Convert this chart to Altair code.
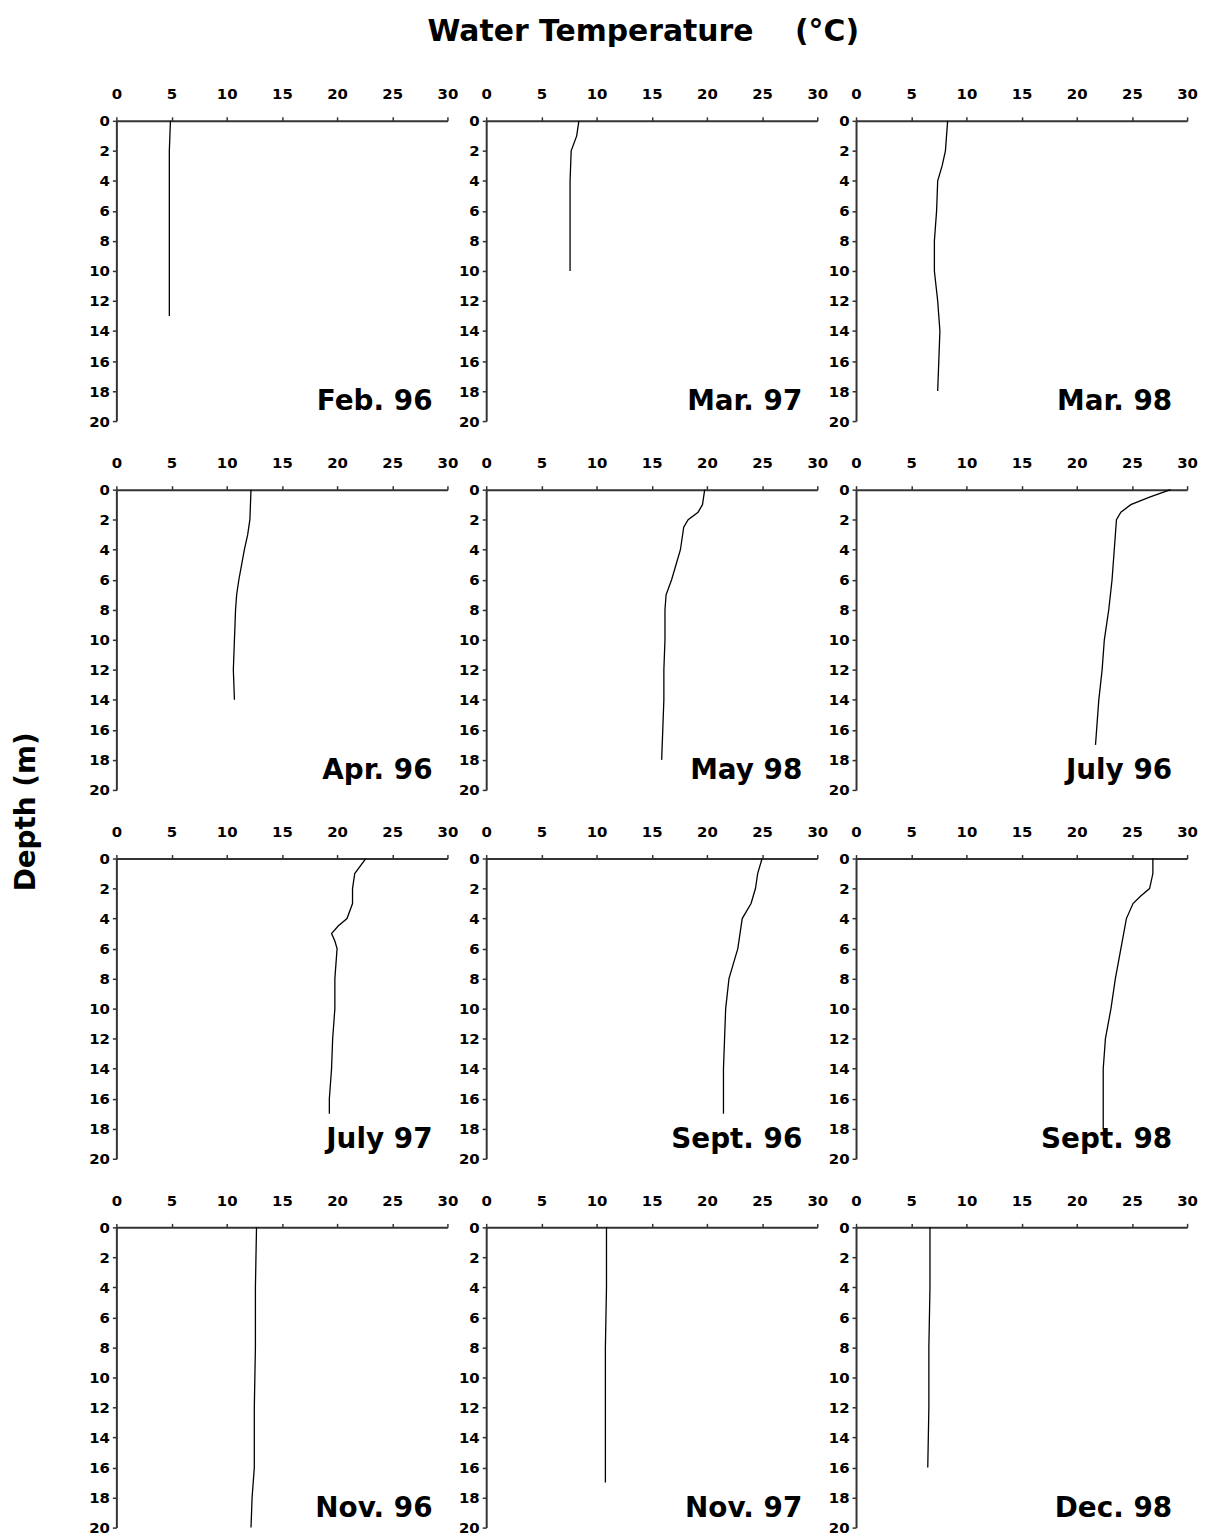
import altair as alt
import pandas as pd

# panel names, in reading order (3 per row)
labels = ["Feb. 96", "Mar. 97", "Mar. 98",
          "Apr. 96", "May 98", "July 96",
          "July 97", "Sept. 96", "Sept. 98",
          "Nov. 96", "Nov. 97", "Dec. 98"]

# depth (m) / temperature (C)
feb96_depth = [0, 2, 4, 6, 8, 10, 12, 13]
feb96_temp = [4.9, 4.8, 4.8, 4.8, 4.8, 4.8, 4.8, 4.8]

mar97_depth = [0, 1, 2, 4, 6, 8, 10]
mar97_temp = [8.4, 8.2, 7.7, 7.6, 7.6, 7.6, 7.6]

mar98_depth = [0, 2, 3, 4, 6, 8, 10, 12, 14, 16, 18]
mar98_temp = [8.3, 8.1, 7.8, 7.4, 7.3, 7.1, 7.1, 7.4, 7.6, 7.5, 7.4]

apr96_depth = [0, 1, 2, 3, 4, 5, 6, 7, 8, 10, 12, 14]
apr96_temp = [12.2, 12.15, 12.1, 11.9, 11.6, 11.35, 11.1, 10.9, 10.8, 10.7, 10.6, 10.7]

may98_depth = [0, 1, 1.5, 2, 2.5, 4, 5, 6, 7, 8, 10, 12, 14, 16, 18]
may98_temp = [19.8, 19.6, 19.2, 18.3, 17.9, 17.6, 17.2, 16.8, 16.3, 16.2, 16.2, 16.1, 16.1, 16.0, 15.9]

jul96_depth = [0, 0.5, 1, 1.5, 2, 3, 4, 6, 8, 10, 12, 14, 16, 17]
jul96_temp = [28.5, 26.6, 24.9, 24.0, 23.6, 23.5, 23.4, 23.2, 22.9, 22.5, 22.3, 22.0, 21.8, 21.7]

jul97_depth = [0, 1, 2, 3, 4, 4.5, 5, 5.5, 6, 8, 10, 12, 14, 16, 17]
jul97_temp = [22.6, 21.6, 21.4, 21.4, 20.9, 20.1, 19.5, 19.8, 20.0, 19.8, 19.8, 19.6, 19.5, 19.3, 19.3]

sep96_depth = [0, 1, 2, 3, 4, 6, 7, 8, 10, 12, 14, 16, 17]
sep96_temp = [25.0, 24.6, 24.4, 24.0, 23.2, 22.8, 22.4, 22.0, 21.7, 21.6, 21.5, 21.5, 21.5]

sep98_depth = [0, 1, 2, 2.5, 3, 4, 6, 8, 10, 12, 14, 16, 18]
sep98_temp = [26.9, 26.9, 26.6, 25.8, 25.1, 24.5, 24.0, 23.5, 23.1, 22.6, 22.4, 22.4, 22.4]

nov96_depth = [0, 4, 8, 12, 16, 18, 20]
nov96_temp = [12.7, 12.6, 12.6, 12.5, 12.5, 12.3, 12.2]

nov97_depth = [0, 4, 8, 12, 17]
nov97_temp = [10.9, 10.9, 10.8, 10.8, 10.8]

dec98_depth = [0, 4, 8, 12, 16]
dec98_temp = [6.7, 6.7, 6.6, 6.6, 6.5]

profiles = [
    (feb96_depth, feb96_temp), (mar97_depth, mar97_temp), (mar98_depth, mar98_temp),
    (apr96_depth, apr96_temp), (may98_depth, may98_temp), (jul96_depth, jul96_temp),
    (jul97_depth, jul97_temp), (sep96_depth, sep96_temp), (sep98_depth, sep98_temp),
    (nov96_depth, nov96_temp), (nov97_depth, nov97_temp), (dec98_depth, dec98_temp),
]

rows = []
for i, (name, (depths, temps)) in enumerate(zip(labels, profiles)):
    for d, t in zip(depths, temps):
        rows.append({"label": name, "r": i // 3, "c": i % 3, "depth": d, "temp": t})
df = pd.DataFrame(rows)

FONT = "DejaVu Sans"
W, H = 333, 302

base = alt.Chart(df)

line = base.mark_line(color="black", strokeWidth=1.3).encode(
    x=alt.X("temp:Q",
            scale=alt.Scale(domain=[0, 30], nice=False),
            axis=alt.Axis(orient="top", values=list(range(0, 31, 5)), title=None,
                          labelFlush=False, labelPadding=15, labelOverlap=False)),
    y=alt.Y("depth:Q",
            scale=alt.Scale(domain=[0, 20], reverse=True, nice=False),
            axis=alt.Axis(values=list(range(0, 21, 2)), title=None,
                          labelFlush=False, labelPadding=3, labelOverlap=False)),
    order=alt.Order("depth:Q"),
)

tag = base.mark_text(font=FONT, fontSize=28, fontWeight="bold", align="right",
                     baseline="middle", color="black").encode(
    x=alt.value(W - 15),
    y=alt.value(283),
    text="label:N",
).transform_filter("datum.depth == 0")

# leading no-break spaces nudge the rotated title up, as in the original
depth_title = "\u00a0" * 8 + "Depth (m)"

chart = alt.layer(line, tag).properties(width=W, height=H).facet(
    row=alt.Row("r:O", header=alt.Header(
        labels=False, title=depth_title, titleFont=FONT, titleFontSize=28,
        titleFontWeight="bold", titlePadding=38)),
    column=alt.Column("c:O", header=alt.Header(
        labels=False, title="Water Temperature\u00a0\u00a0\u00a0\u00a0(°C)", titleFont=FONT,
        titleFontSize=30, titleFontWeight="bold", titlePadding=30)),
    spacing={"row": 27, "column": 0},
).resolve_axis(
    x="independent", y="independent"
).configure_view(
    stroke=None
).configure_axis(
    labelFont=FONT, labelFontSize=15, labelFontWeight="bold", labelColor="black",
    domainColor="#333", domainWidth=2, tickColor="#333", tickWidth=1.5, tickSize=4,
    grid=False,
)

chart.save("out.html", embed_options={"renderer": "svg", "actions": False})
